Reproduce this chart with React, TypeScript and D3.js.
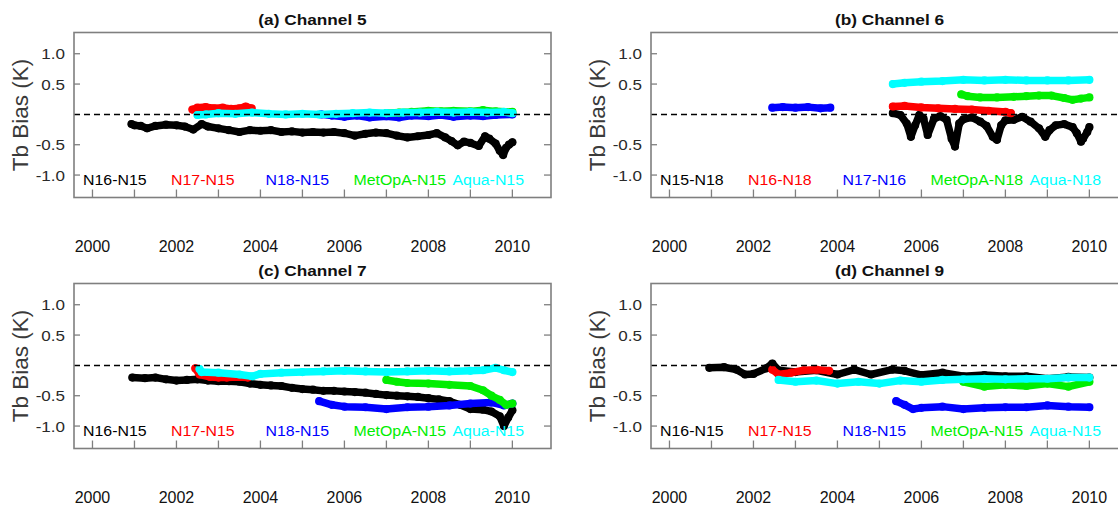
import React from "react";
import * as d3 from "d3";

type Pt = [number, number];

// ---------- tick values / labels ----------
const xTickYears = [2000, 2001, 2002, 2003, 2004, 2005, 2006, 2007, 2008, 2009, 2010];
const xTickLabels = [2000, 2002, 2004, 2006, 2008, 2010];
const yTickValues = [1, 0.5, -0.5, -1];
const yTickLabels = ["1.0", "0.5", "-0.5", "-1.0"];

// ---------- legend labels ----------
const labelsN15 = ["N16-N15", "N17-N15", "N18-N15", "MetOpA-N15", "Aqua-N15"];
const labelsCh6 = ["N15-N18", "N16-N18", "N17-N16", "MetOpA-N18", "Aqua-N18"];

// ---------- (a) Channel 5 ----------
const ch5Black: Pt[] = [[2000.93,-0.16],[2001.0,-0.18],[2001.15,-0.19],[2001.3,-0.23],[2001.5,-0.19],[2001.75,-0.17],[2002.0,-0.18],[2002.2,-0.2],[2002.4,-0.25],[2002.6,-0.16],[2002.75,-0.2],[2003.0,-0.23],[2003.25,-0.26],[2003.5,-0.29],[2003.75,-0.26],[2004.0,-0.27],[2004.25,-0.26],[2004.5,-0.29],[2004.75,-0.28],[2005.0,-0.3],[2005.25,-0.29],[2005.5,-0.3],[2005.75,-0.29],[2006.0,-0.31],[2006.25,-0.35],[2006.5,-0.32],[2006.75,-0.3],[2007.0,-0.31],[2007.25,-0.35],[2007.5,-0.38],[2007.75,-0.36],[2008.0,-0.34],[2008.2,-0.31],[2008.4,-0.38],[2008.55,-0.44],[2008.7,-0.51],[2008.85,-0.45],[2009.0,-0.47],[2009.2,-0.52],[2009.35,-0.36],[2009.45,-0.4],[2009.6,-0.48],[2009.7,-0.6],[2009.78,-0.67],[2009.85,-0.55],[2009.92,-0.5],[2010.0,-0.46]];
const ch5Red: Pt[] = [[2002.38,0.08],[2002.5,0.11],[2002.7,0.12],[2002.9,0.1],[2003.1,0.11],[2003.3,0.09],[2003.5,0.1],[2003.65,0.13],[2003.79,0.1]];
const ch5Blue: Pt[] = [[2005.45,0.0],[2005.7,-0.02],[2006.0,-0.04],[2006.3,-0.02],[2006.6,-0.05],[2007.0,-0.03],[2007.3,-0.05],[2007.6,-0.02],[2008.0,-0.03],[2008.3,-0.01],[2008.6,-0.04],[2009.0,-0.02],[2009.3,-0.03],[2009.6,-0.01],[2010.0,0.0]];
const ch5Green: Pt[] = [[2007.0,0.02],[2007.3,0.03],[2007.6,0.04],[2008.0,0.06],[2008.3,0.05],[2008.6,0.06],[2009.0,0.05],[2009.3,0.07],[2009.6,0.05],[2010.0,0.04]];
const ch5Cyan: Pt[] = [[2002.5,-0.01],[2002.7,0.0],[2003.0,0.02],[2003.4,0.01],[2003.8,0.03],[2004.2,0.01],[2004.6,0.0],[2005.0,0.01],[2005.4,0.0],[2005.8,0.01],[2006.2,0.02],[2006.6,0.03],[2007.0,0.02],[2007.4,0.03],[2007.8,0.03],[2008.2,0.04],[2008.6,0.03],[2009.0,0.04],[2009.4,0.03],[2009.8,0.04],[2010.0,0.02]];

// ---------- (b) Channel 6 ----------
const ch6Black: Pt[] = [[2005.32,0.02],[2005.5,-0.01],[2005.65,-0.15],[2005.75,-0.37],[2005.85,-0.18],[2005.95,-0.01],[2006.05,-0.07],[2006.15,-0.34],[2006.3,-0.07],[2006.45,-0.03],[2006.6,-0.09],[2006.72,-0.4],[2006.8,-0.53],[2006.9,-0.15],[2007.0,-0.08],[2007.2,-0.05],[2007.4,-0.12],[2007.55,-0.19],[2007.7,-0.37],[2007.8,-0.42],[2007.9,-0.18],[2008.0,-0.1],[2008.2,-0.09],[2008.4,-0.04],[2008.6,-0.12],[2008.8,-0.23],[2008.95,-0.37],[2009.05,-0.26],[2009.2,-0.18],[2009.4,-0.16],[2009.6,-0.21],[2009.7,-0.31],[2009.8,-0.45],[2009.85,-0.4],[2009.95,-0.29],[2010.0,-0.21]];
const ch6Red: Pt[] = [[2005.32,0.13],[2005.6,0.14],[2006.0,0.115],[2006.4,0.1],[2006.8,0.09],[2007.2,0.08],[2007.6,0.06],[2008.0,0.04],[2008.13,0.02]];
const ch6Blue: Pt[] = [[2002.45,0.11],[2002.7,0.12],[2003.0,0.11],[2003.3,0.12],[2003.6,0.1],[2003.83,0.11]];
const ch6Green: Pt[] = [[2006.95,0.33],[2007.1,0.3],[2007.4,0.28],[2007.8,0.28],[2008.2,0.29],[2008.5,0.3],[2008.8,0.31],[2009.1,0.31],[2009.4,0.27],[2009.6,0.24],[2009.8,0.26],[2010.0,0.28]];
const ch6Cyan: Pt[] = [[2005.32,0.5],[2005.6,0.52],[2006.0,0.54],[2006.5,0.55],[2007.0,0.57],[2007.5,0.56],[2008.0,0.57],[2008.5,0.56],[2009.0,0.56],[2009.5,0.56],[2010.0,0.57]];

// ---------- (c) Channel 7 ----------
const ch7Black: Pt[] = [[2000.95,-0.2],[2001.25,-0.21],[2001.5,-0.2],[2001.75,-0.23],[2002.0,-0.25],[2002.25,-0.24],[2002.5,-0.23],[2002.75,-0.25],[2003.0,-0.26],[2003.25,-0.26],[2003.5,-0.27],[2003.75,-0.3],[2004.0,-0.32],[2004.25,-0.33],[2004.5,-0.34],[2004.75,-0.37],[2005.0,-0.39],[2005.25,-0.4],[2005.5,-0.42],[2005.75,-0.42],[2006.0,-0.43],[2006.25,-0.44],[2006.5,-0.45],[2006.75,-0.47],[2007.0,-0.49],[2007.25,-0.5],[2007.5,-0.51],[2007.75,-0.52],[2008.0,-0.54],[2008.25,-0.56],[2008.5,-0.59],[2008.75,-0.65],[2009.0,-0.72],[2009.3,-0.73],[2009.5,-0.76],[2009.7,-0.84],[2009.8,-1.0],[2009.9,-0.86],[2010.0,-0.74]];
const ch7Red: Pt[] = [[2002.45,-0.05],[2002.55,-0.15],[2002.8,-0.19],[2003.0,-0.2],[2003.2,-0.2],[2003.45,-0.19],[2003.7,-0.2]];
const ch7Blue: Pt[] = [[2005.4,-0.59],[2005.7,-0.65],[2006.0,-0.68],[2006.5,-0.69],[2007.0,-0.72],[2007.5,-0.69],[2008.0,-0.68],[2008.5,-0.66],[2009.0,-0.63],[2009.5,-0.61],[2009.8,-0.66],[2010.0,-0.63]];
const ch7Green: Pt[] = [[2007.0,-0.24],[2007.25,-0.27],[2007.5,-0.29],[2008.0,-0.3],[2008.5,-0.32],[2009.0,-0.34],[2009.3,-0.41],[2009.5,-0.5],[2009.7,-0.57],[2009.85,-0.65],[2010.0,-0.63]];
const ch7Cyan: Pt[] = [[2002.55,-0.06],[2002.6,-0.11],[2003.0,-0.12],[2003.5,-0.15],[2003.8,-0.18],[2004.0,-0.14],[2004.5,-0.12],[2005.0,-0.11],[2005.5,-0.1],[2006.0,-0.09],[2006.5,-0.1],[2007.0,-0.11],[2007.5,-0.1],[2008.0,-0.09],[2008.5,-0.1],[2009.0,-0.09],[2009.3,-0.08],[2009.6,-0.04],[2009.8,-0.08],[2010.0,-0.11]];

// ---------- (d) Channel 9 ----------
const ch9Black: Pt[] = [[2000.95,-0.04],[2001.3,-0.03],[2001.6,-0.07],[2001.8,-0.15],[2002.0,-0.14],[2002.3,-0.05],[2002.45,0.03],[2002.6,-0.08],[2003.0,-0.11],[2003.5,-0.08],[2004.0,-0.15],[2004.4,-0.07],[2004.8,-0.15],[2005.3,-0.07],[2005.6,-0.09],[2006.0,-0.16],[2006.5,-0.12],[2007.0,-0.18],[2007.5,-0.16],[2008.0,-0.18],[2008.5,-0.18],[2009.0,-0.22],[2009.5,-0.19],[2010.0,-0.2]];
const ch9Red: Pt[] = [[2002.45,-0.07],[2002.6,-0.15],[2002.9,-0.12],[2003.2,-0.08],[2003.5,-0.07],[2003.8,-0.09]];
const ch9Blue: Pt[] = [[2005.4,-0.59],[2005.6,-0.65],[2005.8,-0.72],[2006.0,-0.7],[2006.5,-0.68],[2007.0,-0.72],[2007.5,-0.7],[2008.0,-0.69],[2008.5,-0.69],[2009.0,-0.66],[2009.5,-0.68],[2010.0,-0.69]];
const ch9Green: Pt[] = [[2007.0,-0.27],[2007.5,-0.35],[2008.0,-0.32],[2008.5,-0.34],[2009.0,-0.3],[2009.5,-0.35],[2010.0,-0.27]];
const ch9Cyan: Pt[] = [[2002.6,-0.24],[2003.0,-0.27],[2003.5,-0.25],[2004.0,-0.3],[2004.5,-0.27],[2005.0,-0.3],[2005.5,-0.25],[2006.0,-0.27],[2006.5,-0.24],[2007.0,-0.23],[2007.5,-0.22],[2008.0,-0.23],[2008.5,-0.22],[2009.0,-0.22],[2009.5,-0.2],[2010.0,-0.2]];

// ---------- styling ----------
const seriesColors = ["#000000", "#ff0000", "#0000ff", "#00ee00", "#00ffff"];
const FONT = "'Liberation Sans', Arial, Helvetica, sans-serif";

interface Panel {
  title: string;
  col: number;
  row: number;
  labels: string[];
  series: Pt[][];
}

const panels: Panel[] = [
  { title: "(a) Channel 5", col: 0, row: 0, labels: labelsN15, series: [ch5Black, ch5Red, ch5Blue, ch5Green, ch5Cyan] },
  { title: "(b) Channel 6", col: 1, row: 0, labels: labelsCh6, series: [ch6Black, ch6Red, ch6Blue, ch6Green, ch6Cyan] },
  { title: "(c) Channel 7", col: 0, row: 1, labels: labelsN15, series: [ch7Black, ch7Red, ch7Blue, ch7Green, ch7Cyan] },
  { title: "(d) Channel 9", col: 1, row: 1, labels: labelsN15, series: [ch9Black, ch9Red, ch9Blue, ch9Green, ch9Cyan] },
];

const W = 1118, H = 507;
const BOX_W = 477, BOX_H = 165;
const legendOffsets = [9, 97, 191.5, 279.5, 378.5];

function PanelView({ p }: { p: Panel }) {
  const left = 74 + p.col * 577;
  const top = 32.5 + p.row * 251;
  const right = left + BOX_W;
  const bottom = top + BOX_H;
  const x = d3.scaleLinear().domain([1999.56, 2010.92]).range([left, right]);
  const y = d3.scaleLinear().domain([-1.37, 1.35]).range([bottom, top]);
  const line = d3.line<Pt>().x((d) => x(d[0])).y((d) => y(d[1]));
  const gray = "#7f7f7f";
  const cx = (left + right) / 2;
  return (
    <g>
      {/* title */}
      <text
        transform={`translate(${cx},${top - 7.5}) scale(1.15,1)`}
        textAnchor="middle"
        fontFamily={FONT}
        fontWeight="bold"
        fontSize={15}
        fill="#111"
      >
        {p.title}
      </text>
      {/* y label */}
      <text
        transform={`translate(${left - 46},${(top + bottom) / 2}) rotate(-90)`}
        textAnchor="middle"
        fontFamily={FONT}
        fontSize={22.5}
        fill="#3a3a3a"
      >
        Tb Bias (K)
      </text>
      {/* series */}
      {p.series.map((s, i) => (
        <g key={i}>
          <path
            d={line(s) || ""}
            fill="none"
            stroke={seriesColors[i]}
            strokeWidth={7.5}
            strokeLinejoin="round"
            strokeLinecap="round"
          />
          {s.map((d, j) => (
            <circle key={j} cx={x(d[0])} cy={y(d[1])} r={3.4} fill="none" stroke={seriesColors[i]} strokeWidth={1.4} />
          ))}
        </g>
      ))}
      {/* zero line */}
      <line x1={left} x2={right} y1={y(0)} y2={y(0)} stroke="#000" strokeWidth={1.5} strokeDasharray="6,4" />
      {/* box */}
      <rect x={left} y={top} width={BOX_W} height={BOX_H} fill="none" stroke={gray} strokeWidth={1.6} />
      {/* y ticks */}
      {yTickValues.map((v, i) => (
        <g key={i}>
          <line x1={left} x2={left + 6} y1={y(v)} y2={y(v)} stroke={gray} strokeWidth={1.3} />
          <line x1={right - 7} x2={right} y1={y(v)} y2={y(v)} stroke={gray} strokeWidth={1.3} />
          <text
            transform={`translate(${left - 9},${y(v) + 5.5}) scale(1.1,1)`}
            textAnchor="end"
            fontFamily={FONT}
            fontSize={15.5}
            fill="#2a2a2a"
          >
            {yTickLabels[i]}
          </text>
        </g>
      ))}
      {/* x ticks */}
      {xTickYears.map((t) => (
        <line key={t} x1={x(t)} x2={x(t)} y1={bottom} y2={bottom - 8} stroke={gray} strokeWidth={1.3} />
      ))}
      {xTickLabels.map((t) => (
        <text key={t} x={x(t)} y={bottom + 54.5} textAnchor="middle" fontFamily={FONT} fontSize={16} fill="#111">
          {t}
        </text>
      ))}
      {/* legend */}
      {p.labels.map((lab, i) => (
        <text
          key={lab}
          transform={`translate(${left + legendOffsets[i]},${bottom - 13}) scale(1.06,1)`}
          fontFamily={FONT}
          fontSize={15}
          fill={seriesColors[i]}
        >
          {lab}
        </text>
      ))}
    </g>
  );
}

export default function App() {
  return (
    <svg
      width={W}
      height={H}
      viewBox={`0 0 ${W} ${H}`}
      style={{ position: "absolute", left: 0, top: 0, background: "#fff" }}
    >
      <rect x={0} y={0} width={W} height={H} fill="#fff" />
      {panels.map((p) => (
        <PanelView key={p.title} p={p} />
      ))}
    </svg>
  );
}
